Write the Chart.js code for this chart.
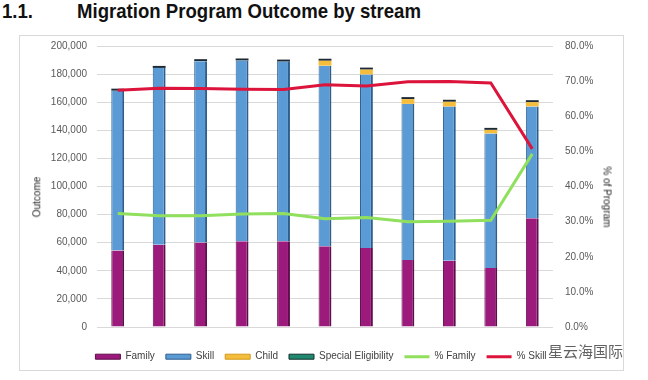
<!DOCTYPE html>
<html><head><meta charset="utf-8">
<script src="https://cdn.jsdelivr.net/npm/chart.js@4/dist/chart.umd.min.js"></script>
<style>
html,body{margin:0;padding:0;background:#fff;width:648px;height:380px;overflow:hidden;font-family:"Liberation Sans",Arial,sans-serif;}
#panel{position:absolute;left:19px;top:35px;width:603px;height:334px;border:1px solid #d9d9d9;background:#fff;}
.ttl{position:absolute;top:0px;font-weight:bold;font-size:21px;line-height:21px;color:#111;white-space:nowrap;transform-origin:left top;}
canvas{position:absolute;left:0;top:0;}
.axt{position:absolute;font-size:10px;line-height:12px;color:#262626;white-space:nowrap;}
#wm{position:absolute;left:548px;top:342px;font-family:"Noto Sans CJK SC",sans-serif;font-size:15px;line-height:18px;color:rgba(70,70,70,0.85);white-space:nowrap;}
</style></head>
<body>
<div id="panel"></div>
<div class="ttl" id="num" style="left:2px">1.1.</div>
<div class="ttl" id="ttl" style="left:77px">Migration Program Outcome by stream</div>
<canvas id="c" width="648" height="380"></canvas>
<div class="axt" id="ytitle">Outcome</div>
<div class="axt" id="y1title">% of Program</div>
<div id="wm">星云海国际</div>
<script>
const categories = ['2010-11','2011-12','2012-13','2013-14','2014-15','2015-16','2016-17','2017-18','2018-19','2019-20','2020-21'];
const familyValues = [54500, 58600, 60200, 61100, 61100, 57400, 56200, 47700, 47200, 42000, 77400];
const skillValues = [113700, 125800, 129000, 128600, 127800, 128600, 123600, 111100, 109700, 95800, 79600];
const childValues = [0, 0, 0, 0, 0, 3500, 3400, 3400, 3400, 2500, 3000];
const specialValues = [400, 600, 800, 300, 200, 300, 400, 200, 100, 100, 100];
const pctFamily = [32.3, 31.7, 31.7, 32.2, 32.3, 30.8, 31.2, 30.0, 30.1, 30.4, 49.3];
const pctSkill = [67.4, 68.0, 67.9, 67.7, 67.6, 69.0, 68.6, 69.8, 69.9, 69.5, 50.7];
const outcomeMax = 200000, outcomeStep = 20000;
const pctMax = 80, pctStep = 10;

// title fitting
function fitWidth(id, w){const el=document.getElementById(id);const r=el.getBoundingClientRect().width;el.style.transform='scaleX('+(w/r)+')';}
fitWidth('ttl', 344); fitWidth('num', 31);
function place(id, cx, cy, rot){const el=document.getElementById(id);const w=el.offsetWidth,h=el.offsetHeight;el.style.left=(cx-w/2)+'px';el.style.top=(cy-h/2)+'px';el.style.transform='rotate('+rot+'deg)';}
place('ytitle', 37.5, 197, -90);
place('y1title', 606, 197, 90);

const FONT = '"Liberation Sans", Arial, sans-serif';
const tickColor = '#595959';

new Chart(document.getElementById('c'), {
  type: 'bar',
  data: {
    labels: categories,
    datasets: [
      {label:'Family', data: familyValues, backgroundColor:'#9C1A7C', borderColor:'#5E0D4A', borderWidth:{left:1,right:2,top:0,bottom:0}, order:2, yAxisID:'y'},
      {label:'Skill', data: skillValues, backgroundColor:'#5B9BD5', borderColor:'#2D5E8E', borderWidth:{left:1,right:2,top:0,bottom:0}, order:2, yAxisID:'y'},
      {label:'Child', data: childValues, backgroundColor:'#F5BD3C', borderColor:'#D39A1C', borderWidth:0, order:2, yAxisID:'y'},
      {label:'Special Eligibility', data: specialValues, backgroundColor:'#1B2A36', borderColor:'#12302B', borderWidth:0, minBarLength:2, order:2, yAxisID:'y'},
      {type:'line', label:'% Family', data: pctFamily, borderColor:'#90E05E', backgroundColor:'#90E05E', borderWidth:3, pointRadius:0, tension:0, fill:false, order:1, yAxisID:'y1'},
      {type:'line', label:'% Skill', data: pctSkill, borderColor:'#DC143C', backgroundColor:'#DC143C', borderWidth:3, pointRadius:0, tension:0, fill:false, order:1, yAxisID:'y1'}
    ]
  },
  options: {
    responsive:false, animation:false, devicePixelRatio:1,
    layout:{padding:{left:19, right:25, top:46, bottom:8.3}},
    datasets:{bar:{barPercentage:0.31, categoryPercentage:1}},
    scales:{
      x:{stacked:true, grid:{display:false}, border:{display:false},
         ticks:{color:tickColor, font:{family:FONT,size:10}, padding:10, maxRotation:0, autoSkip:false},
         afterFit(s){s.height=13.7;}},
      y:{stacked:true, min:0, max:outcomeMax, position:'left',
         ticks:{stepSize:outcomeStep, color:tickColor, font:{family:FONT,size:10}, padding:10, callback:v=>v.toLocaleString('en-US')},
         grid:{color:'#d9d9d9', lineWidth:1, drawTicks:false}, border:{display:false},
         afterFit(s){s.width=78;}},
      y1:{stacked:false, min:0, max:pctMax, position:'right',
         ticks:{stepSize:pctStep, color:tickColor, font:{family:FONT,size:10}, padding:12, callback:v=>v.toFixed(1)+'%'},
         grid:{display:false, drawTicks:false}, border:{display:false},
         afterFit(s){s.width=70;}}
    },
    plugins:{
      tooltip:{enabled:false},
      legend:{position:'bottom',
        labels:{usePointStyle:true, pointStyleWidth:25, boxHeight:5, padding:11, color:'#404040', font:{family:FONT,size:10},
          generateLabels(chart){
            const items = Chart.defaults.plugins.legend.labels.generateLabels(chart);
            items.forEach(it=>{
              const ds = chart.data.datasets[it.datasetIndex];
              if (ds.type==='line'){ it.pointStyle='line'; it.lineWidth=3; it.strokeStyle=ds.borderColor; }
              else { it.pointStyle='rect'; it.lineWidth=1; it.fillStyle=ds.backgroundColor; it.strokeStyle=ds.borderColor; }
              if (ds.label==='Special Eligibility'){ it.fillStyle='#1F8A70'; it.strokeStyle='#12302B'; }
            });
            return items;
          },
          sort:(a,b)=>a.datasetIndex-b.datasetIndex
        }
      }
    }
  }
});
</script>
</body></html>
